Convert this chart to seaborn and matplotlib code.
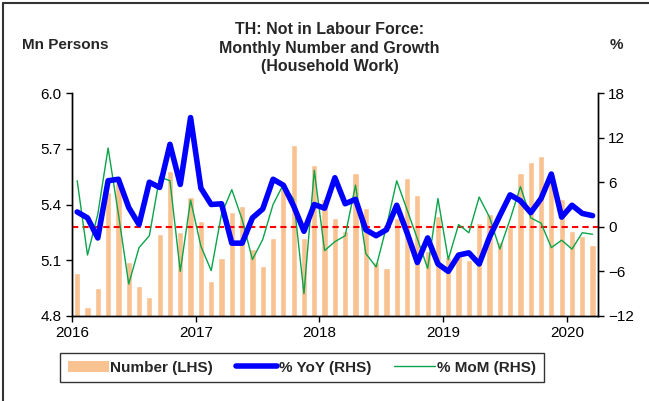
import matplotlib
matplotlib.use("Agg")
import matplotlib.pyplot as plt
from matplotlib.patches import Patch
from matplotlib.lines import Line2D
import seaborn as sns
import numpy as np
import pandas as pd

# monthly data, Jan 2016 - Mar 2020
months = pd.date_range("2016-01-01", periods=51, freq="MS").strftime("%Y-%m").tolist()

number = [5.03, 4.85, 4.95, 5.47, 5.52, 5.09, 4.96, 4.90, 5.24, 5.58, 5.25, 5.44,
          5.31, 4.99, 5.11, 5.36, 5.39, 5.16, 5.07, 5.22, 5.52, 5.72, 5.22, 5.61,
          5.43, 5.33, 5.26, 5.57, 5.38, 5.09, 5.06, 5.33, 5.54, 5.45, 5.15, 5.34,
          5.12, 5.13, 5.10, 5.30, 5.35, 5.20, 5.28, 5.57, 5.63, 5.66, 5.52, 5.43,
          5.26, 5.23, 5.18]

yoy = [2.0, 1.2, -1.5, 6.2, 6.4, 2.6, 0.3, 6.0, 5.3, 11.1, 5.7, 14.7,
       5.2, 3.0, 3.1, -2.2, -2.2, 1.2, 2.4, 6.4, 5.6, 2.8, -0.6, 3.0,
       2.5, 6.6, 3.1, 3.7, -0.4, -1.2, -0.4, 2.9, -0.8, -4.8, -1.5, -5.0,
       -6.0, -3.8, -3.5, -5.0, -1.4, 1.5, 4.3, 3.5, 1.9, 3.8, 7.1, 1.3,
       2.9, 1.8, 1.5]

mom = [6.2, -3.8, 1.7, 10.6, 1.7, -7.7, -2.8, -1.2, 6.7, 6.2, -6.0, 3.6,
       -2.6, -5.9, 1.7, 5.0, 1.0, -4.4, -1.7, 3.0, 5.7, 3.7, -9.0, 7.6,
       -3.2, -2.0, -1.2, 5.6, -3.6, -5.4, 0.0, 6.2, 2.3, -1.6, -5.6, 3.8,
       -4.4, 0.3, -0.8, 4.0, 1.3, -3.0, 1.0, 5.4, 1.2, 0.5, -2.8, -1.8,
       -3.0, -0.8, -1.0]

year_labels = ["2016", "2017", "2018", "2019", "2020"]

df = pd.DataFrame({"month": months, "number": number, "yoy": yoy, "mom": mom})
df["idx"] = np.arange(len(df))

sns.set_style("white")
plt.rcParams["font.family"] = ["Liberation Sans", "DejaVu Sans"]

fig = plt.figure(figsize=(6.49, 4.01), dpi=100)
ax = fig.add_axes([0.111, 0.212, 0.81, 0.556])

bar_color = "#F9C291"
sns.barplot(data=df, x="month", y="number", color=bar_color, width=0.6,
            saturation=1, ax=ax)
ax.set_ylim(4.8, 6.0)
ax.set_yticks([4.8, 5.1, 5.4, 5.7, 6.0])
ax.set_yticklabels(["4.8", "5.1", "5.4", "5.7", "6.0"])
ax.set_xlim(-0.5, len(df) - 0.5)
ax.set_xticks([-0.5 + 12 * i for i in range(len(year_labels))])
ax.set_xticklabels(year_labels)
ax.set_xlabel("")
ax.set_ylabel("")

ax2 = ax.twinx()
ax2.axhline(0, color="red", lw=1.5, ls=(0, (3, 2)), zorder=1)
sns.lineplot(data=df, x="idx", y="mom", color="#0AA44A", lw=1.0, ax=ax2)
sns.lineplot(data=df, x="idx", y="yoy", color="#0000FF", lw=4.0, ax=ax2)
ax2.set_ylim(-12, 18)
ax2.set_yticks([-12, -6, 0, 6, 12, 18])
ax2.set_xlim(-0.5, len(df) - 0.5)
ax2.set_xlabel("")
ax2.set_ylabel("")

for a in (ax, ax2):
    a.spines["top"].set_visible(False)
    for s in ("left", "right", "bottom"):
        a.spines[s].set_color("black")
        a.spines[s].set_linewidth(1.0)
    a.tick_params(direction="out", length=4, width=1, colors="black",
                  labelsize=11)
ax.tick_params(axis="y", left=True, right=False)
ax.tick_params(axis="x", bottom=True)
ax2.tick_params(axis="y", right=True, left=False)

fig.text(0.508, 0.945, "TH: Not in Labour Force:\nMonthly Number and Growth\n(Household Work)",
         ha="center", va="top", fontsize=11.5, fontweight="bold", linespacing=1.3)
fig.text(0.034, 0.888, "Mn Persons", ha="left", va="center", fontsize=11, fontweight="bold")
fig.text(0.940, 0.888, "%", ha="left", va="center", fontsize=11, fontweight="bold")

handles = [Patch(facecolor=bar_color, edgecolor="none"),
           Line2D([0], [0], color="#0000FF", lw=4),
           Line2D([0], [0], color="#0AA44A", lw=1)]
leg = fig.legend(handles, ["Number (LHS)", "% YoY (RHS)", "% MoM (RHS)"],
                 loc="center", bbox_to_anchor=(0.465, 0.083), ncol=3,
                 frameon=True, fancybox=False, handlelength=2.7,
                 columnspacing=1.5, handletextpad=0.1,
                 prop={"weight": "bold", "size": 11}, borderpad=0.5)
leg.get_frame().set_edgecolor("black")
leg.get_frame().set_linewidth(1.0)

# outer frame: only the top and left edges are visible in the picture
fig.add_artist(Line2D([0.005, 1.0], [0.993, 0.993], transform=fig.transFigure,
                      color="#333333", lw=1.5))
fig.add_artist(Line2D([0.005, 0.005], [0.0, 0.993], transform=fig.transFigure,
                      color="#333333", lw=1.5))

fig.savefig("out.png", dpi=100)
